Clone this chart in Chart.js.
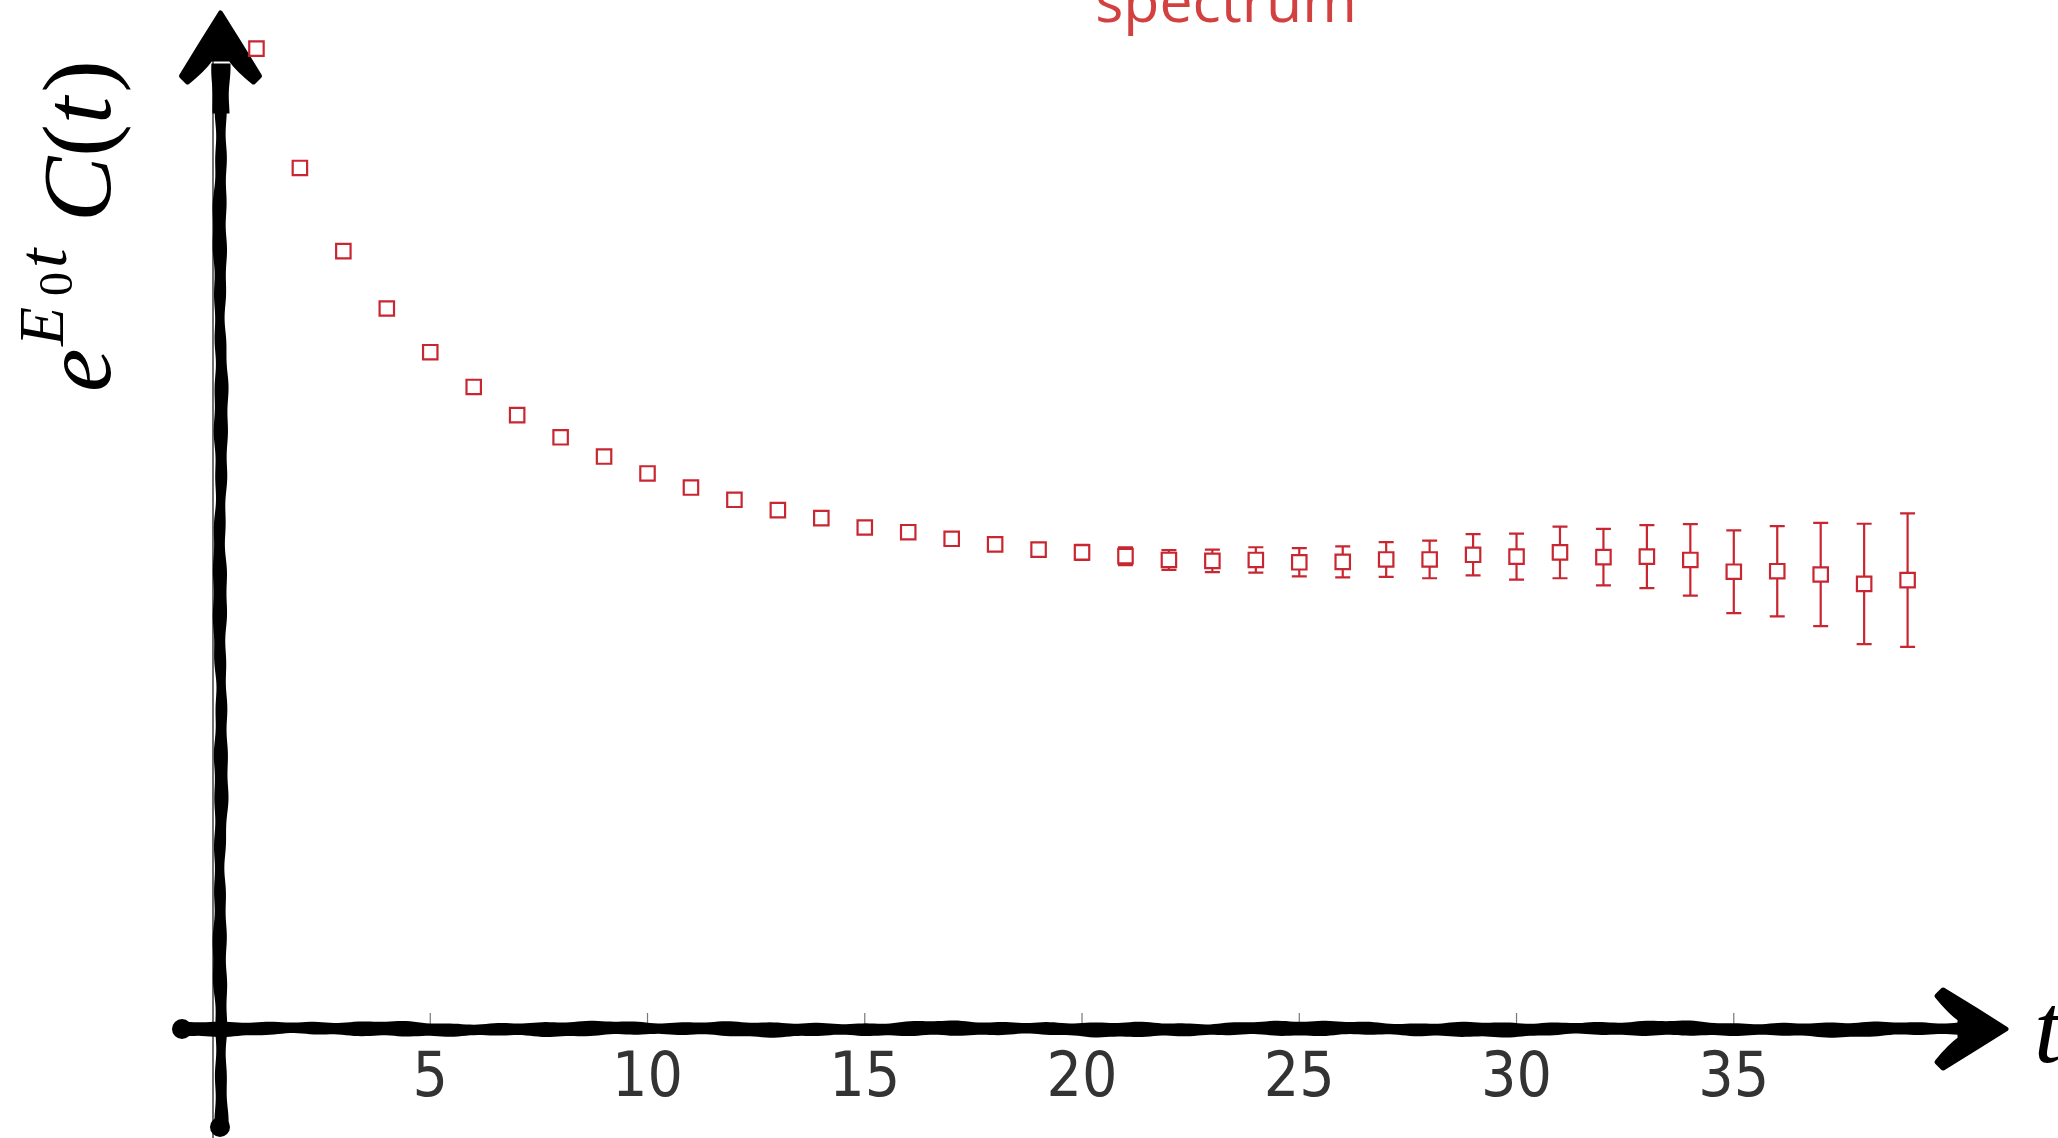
<!DOCTYPE html>
<html>
<head>
<meta charset="utf-8">
<style>
  html, body { margin: 0; padding: 0; background: #ffffff; }
  canvas { display: block; }
</style>
<script src="https://cdn.jsdelivr.net/npm/chart.js@4.4.1/dist/chart.umd.min.js"></script>
</head>
<body>
<canvas id="plot" width="2058" height="1138"></canvas>
<script>
// Euclidean time slices
const tValues = [1, 2, 3, 4, 5, 6, 7, 8, 9, 10, 11, 12, 13, 14, 15, 16, 17, 18, 19, 20,
                 21, 22, 23, 24, 25, 26, 27, 28, 29, 30, 31, 32, 33, 34, 35, 36, 37, 38, 39];

// e^{E0 t} C(t), normalised so the plateau sits near 1
const corr = [2.086, 1.832, 1.655, 1.533, 1.440, 1.366, 1.306, 1.259, 1.218, 1.182,
              1.152, 1.126, 1.104, 1.087, 1.067, 1.057, 1.043, 1.031, 1.020, 1.014,
              1.006, 0.998, 0.996, 0.998, 0.993, 0.994, 0.999, 0.999, 1.009, 1.005,
              1.014, 1.004, 1.005, 0.998, 0.973, 0.974, 0.967, 0.947, 0.955];

// statistical errors (one sigma)
const corrErr = [0.001, 0.001, 0.001, 0.001, 0.001, 0.002, 0.002, 0.002, 0.002, 0.003,
                 0.003, 0.003, 0.004, 0.004, 0.005, 0.006, 0.008, 0.010, 0.012, 0.016,
                 0.019, 0.021, 0.024, 0.027, 0.030, 0.033, 0.037, 0.040, 0.044, 0.049,
                 0.055, 0.060, 0.067, 0.076, 0.088, 0.096, 0.110, 0.128, 0.142];

const xTickLabels = [5, 10, 15, 20, 25, 30, 35];

const seriesName = 'spectrum';
const RED = 'rgb(200,38,48)';
const TITLE_RED = 'rgb(211,64,64)';

// thick hand-drawn stroke between two points, width gently varying along its length
function sketchBar(ctx, x1, y1, x2, y2, base, seed) {
  const len = Math.hypot(x2 - x1, y2 - y1);
  const ux = (x2 - x1) / len, uy = (y2 - y1) / len;
  const nx = -uy, ny = ux;
  const n = Math.ceil(len / 4);
  const a = [], b = [];
  for (let i = 0; i <= n; i++) {
    const s = (i / n) * len;
    const off = 0.8 * Math.sin(s / 53 + seed) + 0.45 * Math.sin(s / 17 + 2 * seed);
    const hw = base / 2 + 0.8 * Math.sin(s / 29 + 3 * seed) + 0.5 * Math.sin(s / 7.3 + seed);
    const px = x1 + ux * s + nx * off, py = y1 + uy * s + ny * off;
    a.push([px + nx * hw, py + ny * hw]);
    b.push([px - nx * hw, py - ny * hw]);
  }
  ctx.beginPath();
  ctx.moveTo(a[0][0], a[0][1]);
  for (const p of a) ctx.lineTo(p[0], p[1]);
  for (let i = b.length - 1; i >= 0; i--) ctx.lineTo(b[i][0], b[i][1]);
  ctx.closePath();
  ctx.fill();
}

// swept arrowhead; (dx, dy) is the unit direction the arrow points to
function sketchHead(ctx, tx, ty, dx, dy) {
  const nx = -dy, ny = dx;
  const P = (u, v) => [tx - u * dx + v * nx, ty - u * dy + v * ny];
  const m = (p) => ctx.moveTo(p[0], p[1]);
  const l = (p) => ctx.lineTo(p[0], p[1]);
  const q = (c, p) => ctx.quadraticCurveTo(c[0], c[1], p[0], p[1]);
  ctx.beginPath();
  m(P(0, 0));
  q(P(30, 19), P(63, 39));
  l(P(69, 33));
  q(P(56, 17), P(46, 10));
  l(P(46, -10));
  q(P(56, -17), P(69, -33));
  l(P(63, -39));
  q(P(30, -19), P(0, 0));
  ctx.closePath();
  ctx.fill();
  ctx.lineWidth = 5;
  ctx.lineJoin = 'round';
  ctx.stroke();
}

const sketchAxes = {
  id: 'sketchAxes',
  beforeDatasetsDraw(chart) {
    const { ctx, chartArea, scales } = chart;
    const x0 = scales.x.getPixelForValue(0);
    const y0 = scales.y.getPixelForValue(0);
    ctx.save();
    // plain axis rule along t = 0
    ctx.strokeStyle = '#222';
    ctx.lineWidth = 1.3;
    ctx.beginPath();
    ctx.moveTo(x0, chartArea.top + 40);
    ctx.lineTo(x0, chart.height);
    ctx.stroke();
    // tick marks above the horizontal axis
    ctx.strokeStyle = '#777';
    ctx.lineWidth = 1.2;
    for (const v of xTickLabels) {
      const px = scales.x.getPixelForValue(v);
      ctx.beginPath();
      ctx.moveTo(px, y0 - 16);
      ctx.lineTo(px, y0 - 4);
      ctx.stroke();
    }
    ctx.fillStyle = '#000';
    ctx.strokeStyle = '#000';
    // vertical axis
    const yx = x0 + 7.5;
    sketchBar(ctx, yx, chart.height - 11, yx, chartArea.top + 50, 12, 0.7);
    sketchBar(ctx, yx, chartArea.top + 95, yx, chartArea.top + 45, 17, 1.9);
    ctx.beginPath(); ctx.arc(yx - 0.5, chart.height - 11, 10, 0, 2 * Math.PI); ctx.fill();
    sketchHead(ctx, yx, chartArea.top - 5.5, 0, -1);
    // horizontal axis
    const xs = x0 - 31;
    const xe = chartArea.right + 11.5;
    sketchBar(ctx, xs, y0, xe - 40, y0, 13, 2.3);
    ctx.beginPath(); ctx.arc(xs, y0, 10, 0, 2 * Math.PI); ctx.fill();
    sketchHead(ctx, xe, y0, 1, 0);
    ctx.restore();
  }
};

const errorBars = {
  id: 'errorBars',
  beforeDatasetsDraw(chart) {
    const { ctx, scales } = chart;
    ctx.save();
    ctx.strokeStyle = RED;
    ctx.lineWidth = 2.2;
    tValues.forEach((t, i) => {
      const px = scales.x.getPixelForValue(t);
      const hi = scales.y.getPixelForValue(corr[i] + corrErr[i]);
      const lo = scales.y.getPixelForValue(corr[i] - corrErr[i]);
      ctx.beginPath();
      ctx.moveTo(px, hi); ctx.lineTo(px, lo);
      ctx.moveTo(px - 7.5, hi); ctx.lineTo(px + 7.5, hi);
      ctx.moveTo(px - 7.5, lo); ctx.lineTo(px + 7.5, lo);
      ctx.stroke();
    });
    ctx.restore();
  }
};

const labels = {
  id: 'labels',
  afterDraw(chart) {
    const { ctx } = chart;
    ctx.save();
    // series title
    ctx.fillStyle = TITLE_RED;
    ctx.font = "59px 'Open Sans'";
    ctx.textAlign = 'center';
    ctx.textBaseline = 'alphabetic';
    ctx.fillText(seriesName, 1226, 22);

    ctx.fillStyle = '#000';
    ctx.textAlign = 'left';
    // horizontal axis label
    ctx.font = "italic 100px 'Liberation Serif'";
    ctx.fillText('t', 2034, 1062);

    // vertical axis label, e^{E0 t} C(t), reading upwards
    ctx.translate(110, 392);
    ctx.rotate(-Math.PI / 2);
    ctx.font = "italic 98px 'Liberation Serif'";
    ctx.fillText('e', 0, 0);
    ctx.font = "italic 64px 'Liberation Serif'";
    ctx.fillText('E', 46, -47);
    ctx.font = "48px 'Liberation Serif'";
    ctx.fillText('0', 96, -38);
    ctx.font = "italic 70px 'Liberation Serif'";
    ctx.fillText('t', 124, -44);
    let x = 170;
    const parts = [['C', true], ['(', false], ['t', true], [')', false]];
    for (const [s, it] of parts) {
      ctx.font = (it ? 'italic ' : '') + "98px 'Liberation Serif'";
      ctx.fillText(s, x, 0);
      x += ctx.measureText(s).width + (s === 't' ? 4 : 0);
    }
    ctx.restore();
  }
};

new Chart(document.getElementById('plot'), {
  type: 'scatter',
  data: {
    datasets: [{
      label: seriesName,
      data: tValues.map((t, i) => ({ x: t, y: corr[i] })),
      pointStyle: 'rect',
      pointRadius: 10.2,
      pointHoverRadius: 10.2,
      borderWidth: 2.2,
      borderColor: RED,
      backgroundColor: '#ffffff',
      showLine: false
    }]
  },
  options: {
    responsive: false,
    animation: false,
    events: [],
    layout: { padding: { left: 213, right: 63.5, top: 18.5, bottom: 0 } },
    plugins: { legend: { display: false }, tooltip: { enabled: false }, title: { display: false } },
    scales: {
      x: {
        type: 'linear',
        min: 0,
        max: 41,
        afterBuildTicks: (s) => { s.ticks = xTickLabels.map(v => ({ value: v })); },
        afterFit: (s) => { s.height = 109; },
        grid: { display: false, drawTicks: false },
        border: { display: false },
        ticks: {
          padding: 14,
          maxRotation: 0,
          autoSkip: false,
          color: '#333333',
          font: { family: "'Liberation Sans Narrow', 'DejaVu Sans Condensed', 'Open Sans'", size: 62 }
        }
      },
      y: {
        type: 'linear',
        min: 0,
        max: 2.15,
        display: false
      }
    }
  },
  plugins: [sketchAxes, errorBars, labels]
});
</script>
</body>
</html>
